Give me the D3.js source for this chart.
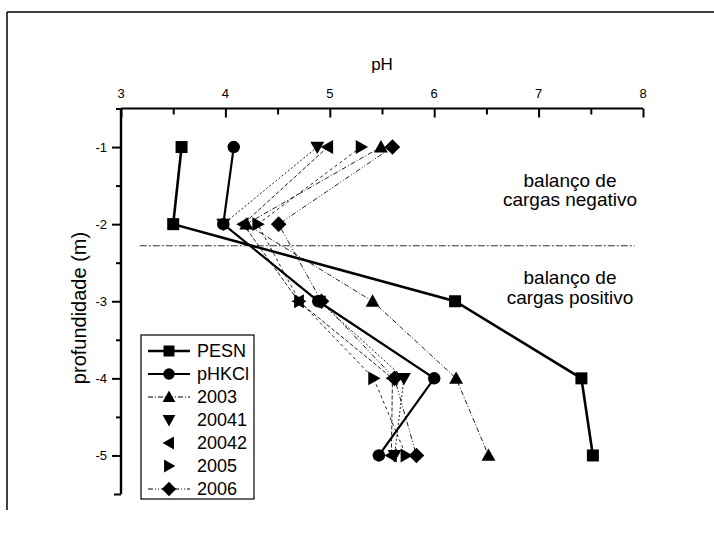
<!DOCTYPE html>
<html><head><meta charset="utf-8">
<script src="https://cdn.jsdelivr.net/npm/d3@7"></script>
<style>body{margin:0;background:#fff}svg{display:block}text{font-family:"Liberation Sans",Arial,sans-serif;fill:#000}</style>
</head><body><svg id="c" width="714" height="533"></svg>
<script>
const depths = [-1, -2, -3, -4, -5];
const PESN   = [3.58, 3.50, 6.20, 7.41, 7.52];
const pHKCl  = [4.08, 3.98, 4.89, 6.00, 5.47];
const s2003  = [5.49, 4.20, 5.41, 6.21, 6.52];
const s20041 = [4.88, 3.98, 4.90, 5.71, 5.62];
const s20042 = [4.98, 4.17, 4.70, 5.60, 5.59];
const s2005  = [5.30, 4.31, 4.71, 5.42, 5.73];
const s2006  = [5.60, 4.51, 4.92, 5.62, 5.83];
const xTicks = [3, 4, 5, 6, 7, 8];
const yTicks = [-1, -2, -3, -4, -5];
const boundaryDepth = -2.28;
const boundaryRange = [3.18, 7.92];

const series = [
  {name:"PESN",   values:PESN,   sym:"square",   width:2.6, dash:null,        legendLine:true},
  {name:"pHKCl",  values:pHKCl,  sym:"circle",   width:2.2, dash:null,        legendLine:true},
  {name:"2003",   values:s2003,  sym:"up",       width:1,   dash:"5,2,1,2",   legendLine:true},
  {name:"20041",  values:s20041, sym:"down",     width:1,   dash:"2,2",       legendLine:false},
  {name:"20042",  values:s20042, sym:"left",     width:1,   dash:"4,2",       legendLine:false},
  {name:"2005",   values:s2005,  sym:"right",    width:1,   dash:"3,3",       legendLine:false},
  {name:"2006",   values:s2006,  sym:"diamond",  width:1,   dash:"5,2,1,2,1,2", legendLine:true}
];

const svg = d3.select("#c");
const x = d3.scaleLinear().domain([3, 8]).range([121, 643]);
const y = d3.scaleLinear().domain([-0.5, -5.5]).range([108.5, 494]);

// frame
svg.append("line").attr("x1",7).attr("x2",714).attr("y1",12).attr("y2",12).attr("stroke","#000").attr("stroke-width",1.5);
svg.append("line").attr("x1",7).attr("x2",7).attr("y1",12).attr("y2",510).attr("stroke","#000").attr("stroke-width",1.5);

// top axis
const xAxis = d3.axisTop(x).tickValues(d3.range(3, 8.01, 0.5)).tickSize(-8).tickPadding(0).tickFormat("");
const gx = svg.append("g").attr("transform",`translate(0,${y(-0.5)})`).call(xAxis);
gx.select(".domain").attr("stroke-width",2).attr("d",`M${x(3)},0H${x(8)}`);
gx.selectAll(".tick line").attr("stroke-width",2).attr("y2", d => Number.isInteger(d) ? 9 : 6);
svg.append("g").selectAll("text").data(xTicks).join("text")
  .attr("x", d => x(d)).attr("y", 98).attr("text-anchor","middle").attr("font-size",13).text(d => d);
svg.append("text").attr("x", 382).attr("y", 70).attr("text-anchor","middle").attr("font-size",17).text("pH");

// left axis
const yAxis = d3.axisLeft(y).tickValues(d3.range(-0.5, -5.51, -0.5)).tickSize(0).tickFormat("");
const gy = svg.append("g").attr("transform",`translate(${x(3)},0)`).call(yAxis);
gy.select(".domain").attr("stroke-width",2.4).attr("d",`M0,${y(-0.5)}V${y(-5.5)}`);
gy.selectAll(".tick line").attr("stroke-width",2).attr("x2", d => Number.isInteger(d) ? -9 : (d === -5.5 ? -7 : -5));
svg.append("g").selectAll("text").data(yTicks).join("text")
  .attr("x", 107).attr("y", d => y(d) + 5).attr("text-anchor","end").attr("font-size",13).text(d => d);
svg.append("text").attr("transform",`translate(86,308) rotate(-90)`).attr("text-anchor","middle")
  .attr("font-size",20).text("profundidade (m)");

// boundary line
svg.append("line").attr("x1", x(boundaryRange[0])).attr("x2", x(boundaryRange[1]))
  .attr("y1", y(boundaryDepth)).attr("y2", y(boundaryDepth))
  .attr("stroke","#333").attr("stroke-width",1.2).attr("stroke-dasharray","7,2,2,2");

// annotations
const ann = [["balanço de", 187], ["cargas negativo", 206], ["balanço de", 284], ["cargas positivo", 304]];
svg.append("g").selectAll("text").data(ann).join("text")
  .attr("x", 570).attr("y", d => d[1]).attr("text-anchor","middle").attr("font-size",19).text(d => d[0]);

// symbols
function symPath(sym, s) {
  switch (sym) {
    case "square": return `M${-s/2},${-s/2}h${s}v${s}h${-s}Z`;
    case "circle": return d3.symbol(d3.symbolCircle, s*s*0.85)();
    case "up": return `M0,${-s*0.58}L${s*0.58},${s*0.45}L${-s*0.58},${s*0.45}Z`;
    case "down": return `M0,${s*0.58}L${s*0.58},${-s*0.45}L${-s*0.58},${-s*0.45}Z`;
    case "left": return `M${-s*0.58},0L${s*0.45},${-s*0.58}L${s*0.45},${s*0.58}Z`;
    case "right": return `M${s*0.58},0L${-s*0.45},${-s*0.58}L${-s*0.45},${s*0.58}Z`;
    case "diamond": return `M0,${-s*0.65}L${s*0.65},0L0,${s*0.65}L${-s*0.65},0Z`;
  }
}

const line = d3.line().x(d => x(d[0])).y(d => y(d[1]));
const order = [2,3,4,5,6,0,1];
order.forEach(i => {
  const s = series[i];
  const pts = s.values.map((v, j) => [v, depths[j]]);
  svg.append("path").attr("d", line(pts)).attr("fill","none")
    .attr("stroke", s.dash ? "#222" : "#000").attr("stroke-width", s.width)
    .attr("stroke-dasharray", s.dash);
});
order.forEach(i => {
  const s = series[i];
  svg.append("g").selectAll("path").data(s.values).join("path")
    .attr("transform", (v, j) => `translate(${x(v)},${y(depths[j])})`)
    .attr("d", symPath(s.sym, 12)).attr("fill","#000");
});

// legend
const lg = svg.append("g");
lg.append("rect").attr("x",141).attr("y",335).attr("width",113).attr("height",164)
  .attr("fill","#fff").attr("stroke","#000").attr("stroke-width",1.2);
series.forEach((s, i) => {
  const cy = 351 + i * 23;
  if (s.legendLine) {
    lg.append("line").attr("x1",148).attr("x2",190).attr("y1",cy).attr("y2",cy)
      .attr("stroke","#000").attr("stroke-width", s.dash ? 1 : s.width).attr("stroke-dasharray", s.dash);
  }
  lg.append("path").attr("transform",`translate(169,${cy})`).attr("d", symPath(s.sym, 11)).attr("fill","#000");
  lg.append("text").attr("x", 197).attr("y", cy + 6).attr("font-size",18).text(s.name);
});
</script></body></html>
